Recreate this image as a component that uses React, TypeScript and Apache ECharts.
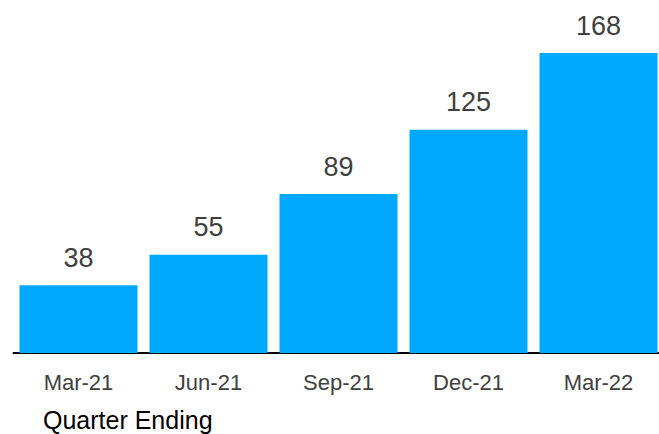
import React, { useEffect, useRef } from "react";
import * as echarts from "echarts";

const categories = ["Mar-21", "Jun-21", "Sep-21", "Dec-21", "Mar-22"];
const values = [38, 55, 89, 125, 168];
const axisTitle = "Quarter Ending";

const FONT = "Liberation Sans, Arial, sans-serif";

export default function App() {
  const ref = useRef<HTMLDivElement>(null);
  useEffect(() => {
    const chart = echarts.init(ref.current!, null, { renderer: "svg" });
    chart.setOption({
      animation: false,
      grid: { left: 13.5, right: 16.5, top: 53, bottom: 81, containLabel: false },
      xAxis: {
        type: "category",
        data: categories,
        axisLine: { show: true, lineStyle: { color: "#000", width: 2 } },
        axisTick: { show: false },
        axisLabel: {
          color: "#404040",
          fontSize: 22,
          fontFamily: FONT,
          margin: 18,
        },
      },
      yAxis: {
        type: "value",
        min: 0,
        max: 168,
        show: false,
        splitLine: { show: false },
      },
      graphic: [
        {
          type: "text",
          left: 43,
          top: 407,
          style: {
            text: axisTitle,
            fill: "#000",
            fontSize: 25,
            fontFamily: FONT,
          },
        },
      ],
      series: [
        {
          type: "bar",
          data: values,
          barWidth: 118,
          itemStyle: { color: "#00A8FF" },
          label: {
            show: true,
            position: "top",
            distance: 14,
            color: "#404040",
            fontSize: 27,
            fontFamily: FONT,
          },
        },
      ],
    });
    return () => chart.dispose();
  }, []);
  return (
    <div style={{ position: "fixed", left: 0, top: 0, width: 659, height: 434, overflow: "hidden", background: "#fff" }}>
      <div ref={ref} style={{ width: 680, height: 434 }} />
    </div>
  );
}
